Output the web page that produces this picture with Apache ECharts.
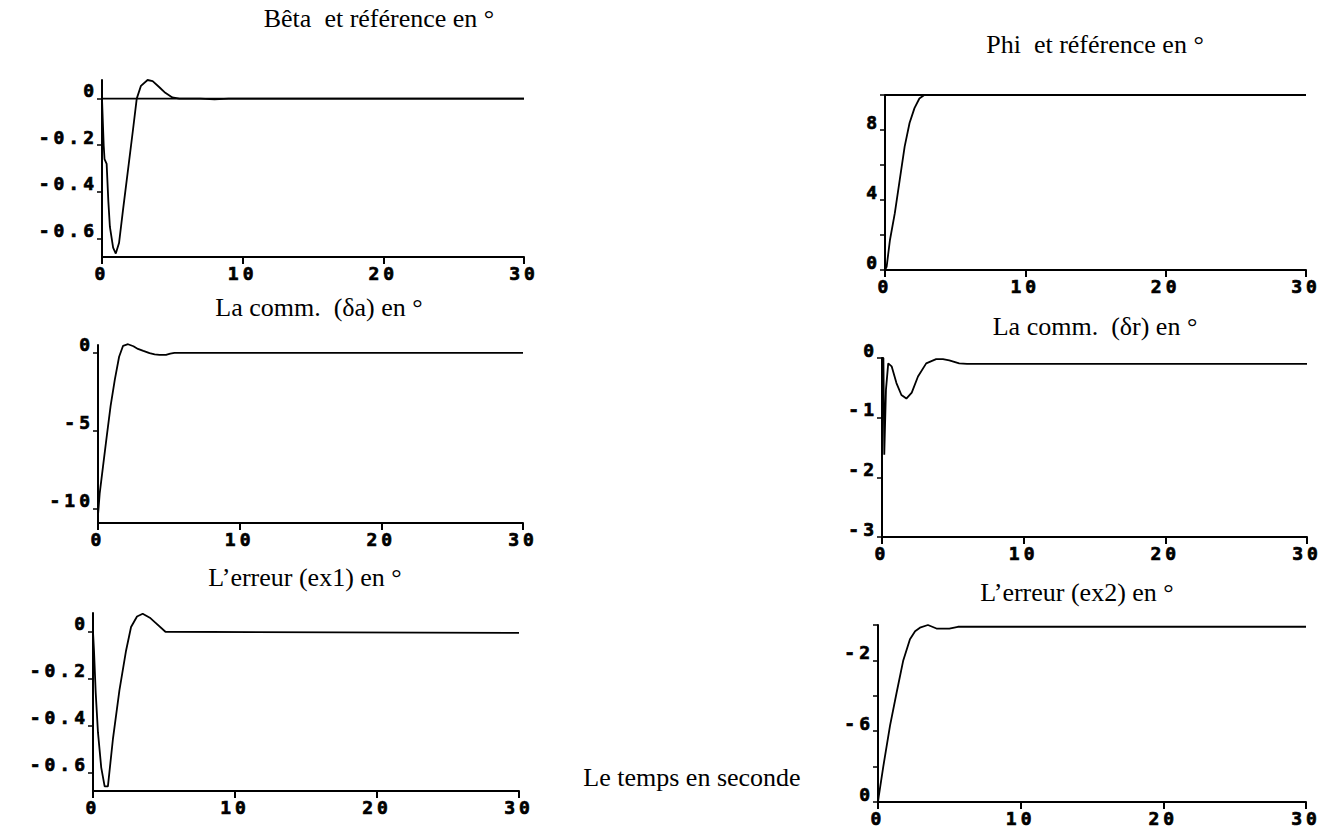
<!DOCTYPE html>
<html>
<head>
<meta charset="utf-8">
<script src="https://cdn.jsdelivr.net/npm/echarts@6/dist/echarts.min.js"></script>
<style>
html,body{margin:0;padding:0;background:#fff;}
#chart{width:1334px;height:832px;}
#chart text[style*="Mono"]{letter-spacing:4px;stroke:#000;stroke-width:0.7px;}
</style>
</head>
<body>
<div id="chart"></div>
<script>
// ---------- data (time in s, values in degrees) ----------
const xTicks = [0, 10, 20, 30];

const betaT = [0, 0.06, 0.12, 0.18, 0.33, 0.45, 0.56, 0.79, 0.98, 1.21, 1.49, 1.84, 2.19, 2.47, 2.77, 3.24, 3.6, 4.06, 4.5, 5.0, 5.5, 7, 8, 9, 30];
const betaY = [0, -0.1, -0.2, -0.26, -0.28, -0.44, -0.55, -0.64, -0.665, -0.62, -0.48, -0.31, -0.14, 0, 0.055, 0.08, 0.075, 0.05, 0.025, 0.005, 0, 0, -0.003, 0, 0];
const betaRefT = [0, 30];
const betaRefY = [0, 0];

const phiT = [0, 0.12, 0.35, 0.7, 1.05, 1.4, 1.75, 2.1, 2.45, 2.8, 3.2, 30];
const phiY = [0, 0.2, 1.7, 3.25, 5.15, 7.05, 8.4, 9.25, 9.8, 10, 10, 10];
const phiRefT = [0, 30];
const phiRefY = [10, 10];

const daT = [0, 0.12, 0.35, 0.61, 0.89, 1.19, 1.49, 1.77, 2.12, 2.5, 2.82, 3.2, 3.64, 4.0, 4.34, 4.8, 5.1, 5.4, 30];
const daY = [-10.4, -9.0, -7.3, -5.4, -3.4, -1.7, -0.25, 0.45, 0.55, 0.42, 0.25, 0.12, -0.02, -0.1, -0.13, -0.13, -0.05, 0, 0];

const drT = [0, 0.1, 0.16, 0.28, 0.44, 0.68, 1.02, 1.37, 1.72, 2.1, 2.54, 3.12, 3.82, 4.3, 4.75, 5.45, 6.0, 30];
const drY = [0, 0, -1.62, -0.53, -0.09, -0.14, -0.42, -0.62, -0.68, -0.58, -0.31, -0.09, -0.02, -0.02, -0.04, -0.09, -0.1, -0.1];

const ex1T = [0, 0.07, 0.19, 0.35, 0.58, 0.82, 1.05, 1.4, 1.86, 2.33, 2.68, 3.1, 3.5, 4.0, 4.43, 5.1, 30];
const ex1Y = [0, -0.08, -0.26, -0.43, -0.58, -0.66, -0.66, -0.46, -0.25, -0.08, 0.02, 0.065, 0.077, 0.06, 0.037, 0, -0.005];

const ex2T = [0, 0.05, 0.37, 0.84, 1.31, 1.77, 2.24, 2.6, 2.94, 3.5, 4.1, 5.0, 5.6, 30];
const ex2Y = [-10, -9.7, -8.0, -5.7, -3.8, -2.0, -0.8, -0.35, -0.15, 0, -0.2, -0.2, -0.1, -0.1];

// ---------- tick marks / tick labels ----------
const betaTickVals = [0, -0.2, -0.4, -0.6];
const betaTickLabels = ['0', '-0.2', '-0.4', '-0.6'];
const phiTickVals = [0, 2, 4, 6, 8, 10];
const phiLabelVals = [0, 4, 8];
const phiTickLabels = ['0', '4', '8'];
const daTickVals = [0, -5, -10];
const daTickLabels = ['0', '-5', '-10'];
const drTickVals = [0, -1, -2, -3];
const drTickLabels = ['0', '-1', '-2', '-3'];
const ex1TickVals = [0, -0.2, -0.4, -0.6];
const ex1TickLabels = ['0', '-0.2', '-0.4', '-0.6'];
const ex2TickVals = [-10, -8, -6, -4, -2, 0];
const ex2LabelVals = [-10, -6, -2];
const ex2TickLabels = ['0', '-6', '-2'];

// ---------- titles ----------
const titles = [
  'Bêta  et référence en °',
  'Phi  et référence en °',
  'La comm.  (δa) en °',
  'La comm.  (δr) en °',
  'L’erreur (ex1) en °',
  'L’erreur (ex2) en °',
  'Le temps en seconde'
];

// ---------- layout ----------
const panels = [
  {grid:{left:102, top:80,  width:422, height:177}, min:-0.68, max:0.08, ticks:betaTickVals, lv:betaTickVals, lt:betaTickLabels,
   series:[[betaT,betaY],[betaRefT,betaRefY]]},
  {grid:{left:885, top:95,  width:421, height:175}, min:0, max:10, ticks:phiTickVals, lv:phiLabelVals, lt:phiTickLabels,
   series:[[phiT,phiY],[phiRefT,phiRefY]]},
  {grid:{left:98,  top:345, width:425, height:178}, min:-10.9, max:0.5, ticks:daTickVals, lv:daTickVals, lt:daTickLabels,
   series:[[daT,daY]]},
  {grid:{left:882, top:358, width:425, height:179}, min:-3, max:0, ticks:drTickVals, lv:drTickVals, lt:drTickLabels,
   series:[[drT,drY]]},
  {grid:{left:93,  top:613, width:426, height:178}, min:-0.68, max:0.08, ticks:ex1TickVals, lv:ex1TickVals, lt:ex1TickLabels,
   series:[[ex1T,ex1Y]]},
  {grid:{left:878, top:625, width:428, height:177}, min:-10, max:0, ticks:ex2TickVals, lv:ex2LabelVals, lt:ex2TickLabels,
   series:[[ex2T,ex2Y]]}
];
const titleCenters = [
  [379, 18], [1095, 44], [319, 307], [1095, 326], [305, 577], [1077, 592], [692, 777]
];
const titleSize = 26;

const monoFont = '"DejaVu Sans Mono", monospace';
const serifFont = '"Liberation Serif", "Times New Roman", serif';

function pairs(t, y) { return t.map((v, i) => [v, y[i]]); }
function labelFor(vals, texts) {
  return function (v) {
    for (let i = 0; i < vals.length; i++) if (Math.abs(vals[i] - v) < 1e-9) return texts[i];
    return '';
  };
}

const grid = [], xAxis = [], yAxis = [], series = [];
panels.forEach((p, i) => {
  grid.push(Object.assign({containLabel:false}, p.grid));
  xAxis.push({
    type:'value', gridIndex:i, min:0, max:30, interval:10,
    axisLine:{show:true, onZero:false, lineStyle:{color:'#000', width:2}},
    axisTick:{show:true, length:7, inside:false, lineStyle:{color:'#000', width:2}},
    splitLine:{show:false},
    axisLabel:{show:true, customValues:xTicks, color:'#000', fontFamily:monoFont, fontWeight:'bold', fontSize:18, margin:7}
  });
  yAxis.push({
    type:'value', gridIndex:i, min:p.min, max:p.max,
    axisLine:{show:true, onZero:false, lineStyle:{color:'#000', width:2}},
    axisTick:{show:true, length:5, inside:false, customValues:p.ticks, lineStyle:{color:'#000', width:1.5}},
    splitLine:{show:false},
    axisLabel:{show:true, customValues:p.lv, formatter:labelFor(p.lv, p.lt), color:'#000',
      fontFamily:monoFont, fontWeight:'bold', fontSize:18, margin:4, verticalAlign:'bottom', lineHeight:16}
  });
  p.series.forEach(s => {
    series.push({
      type:'line', xAxisIndex:i, yAxisIndex:i, data:pairs(s[0], s[1]),
      showSymbol:false, symbol:'none', smooth:false, clip:false,
      lineStyle:{color:'#000', width:1.8}, silent:true
    });
  });
});

const title = titles.map((t, i) => ({
  text:t, left:titleCenters[i][0], top:titleCenters[i][1] - titleSize / 2, textAlign:'center', padding:0,
  textStyle:{fontFamily:serifFont, fontWeight:'normal', fontSize:titleSize, lineHeight:titleSize, color:'#000'}
}));

const chart = echarts.init(document.getElementById('chart'), null, {renderer:'svg'});
chart.setOption({
  backgroundColor:'#fff',
  animation:false,
  title:title,
  grid:grid, xAxis:xAxis, yAxis:yAxis, series:series
});
</script>
</body>
</html>
